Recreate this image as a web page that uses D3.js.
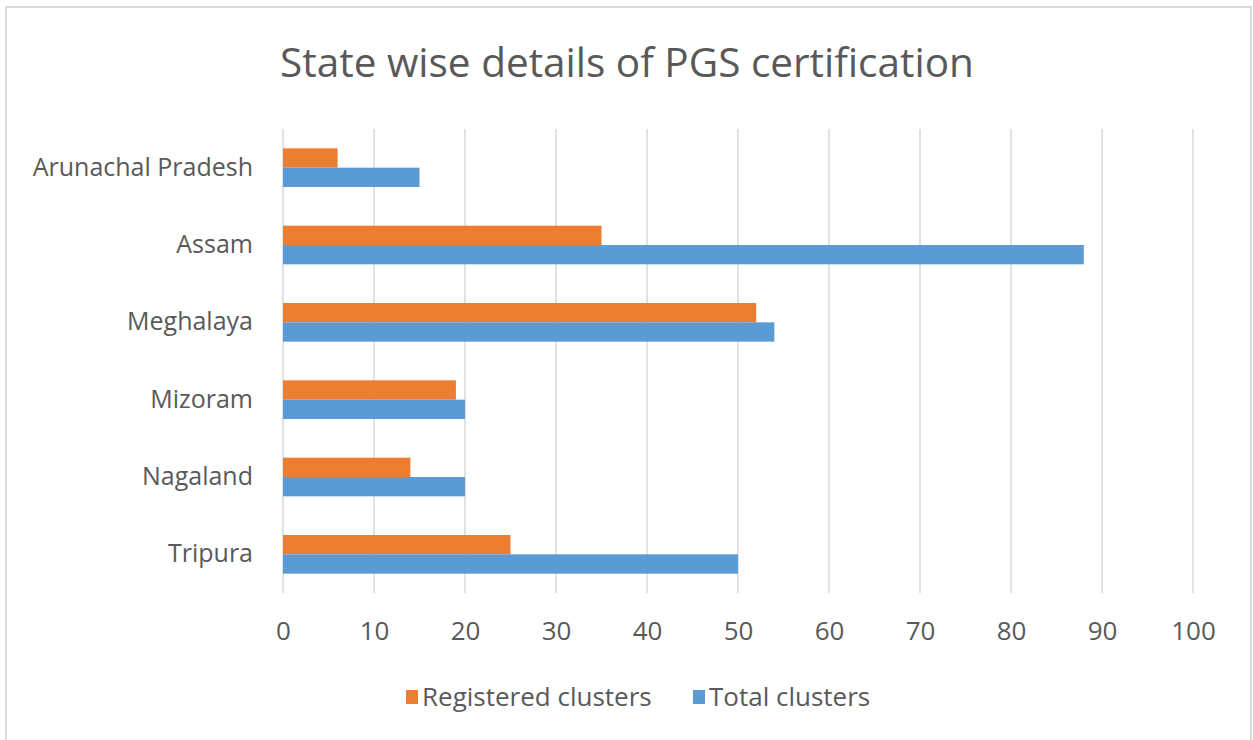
<!DOCTYPE html>
<html>
<head>
<meta charset="utf-8">
<script src="https://d3js.org/d3.v7.min.js"></script>
<style>
  body { margin: 0; background: #fff; }
  text { font-family: "Open Sans", sans-serif; fill: #595959; }
</style>
</head>
<body>
<div id="chart"></div>
<script>
// data
var states = ["Arunachal Pradesh", "Assam", "Meghalaya", "Mizoram", "Nagaland", "Tripura"];
var registered = [6, 35, 52, 19, 14, 25];
var total = [15, 88, 54, 20, 20, 50];
var seriesNames = ["Registered clusters", "Total clusters"];
var xTicks = [0, 10, 20, 30, 40, 50, 60, 70, 80, 90, 100];

var W = 1253, H = 740;
var margin = {top: 129, left: 283, right: 60, bottom: 148};
var width = W - margin.left - margin.right,
    height = H - margin.top - margin.bottom;

var svg = d3.select("#chart").append("svg")
    .attr("width", W).attr("height", H);

// outer frame
svg.append("rect")
    .attr("x", 6).attr("y", 7)
    .attr("width", 1245).attr("height", 745)
    .attr("fill", "#fff")
    .attr("stroke", "#d9d9d9").attr("stroke-width", 2);

svg.append("text")
    .attr("x", 627).attr("y", 77)
    .attr("text-anchor", "middle")
    .style("font-size", "40.5px")
    .text("State wise details of PGS certification");

var g = svg.append("g")
    .attr("transform", "translate(" + margin.left + "," + margin.top + ")");

var x = d3.scaleLinear().domain([0, 100]).range([0, 910]);
var y = d3.scaleBand().domain(states).range([0, 464]).paddingInner(0.5).paddingOuter(0.25);
var sub = d3.scaleBand().domain(seriesNames).range([0, y.bandwidth()]);
var color = d3.scaleOrdinal().domain(seriesNames).range(["#ed7d31", "#5b9bd5"]);

// gridlines
g.append("g")
  .selectAll("line")
  .data(xTicks)
  .enter().append("line")
    .attr("x1", function(d) { return x(d); })
    .attr("x2", function(d) { return x(d); })
    .attr("y1", 0).attr("y2", 464)
    .attr("stroke", "#d9d9d9").attr("stroke-width", 1.5);

var rows = states.map(function(s, i) {
  return {state: s, values: [
    {key: seriesNames[0], value: registered[i]},
    {key: seriesNames[1], value: total[i]}
  ]};
});

g.append("g")
  .selectAll("g")
  .data(rows)
  .enter().append("g")
    .attr("transform", function(d) { return "translate(0," + y(d.state) + ")"; })
  .selectAll("rect")
  .data(function(d) { return d.values; })
  .enter().append("rect")
    .attr("x", x(0))
    .attr("y", function(d) { return sub(d.key); })
    .attr("height", sub.bandwidth())
    .attr("width", function(d) { return x(d.value) - x(0); })
    .attr("fill", function(d) { return color(d.key); });

// category labels
var yAxis = g.append("g")
    .call(d3.axisLeft(y).tickSize(0).tickPadding(30));
yAxis.select(".domain").remove();
yAxis.selectAll("text")
    .style("font-size", "25px")
    .style("fill", "#595959")
    .style("font-family", "'Open Sans', sans-serif");

// value labels
var xAxis = g.append("g")
    .attr("transform", "translate(0,464)")
    .call(d3.axisBottom(x).tickValues(xTicks).tickSize(0).tickPadding(29));
xAxis.select(".domain").remove();
xAxis.selectAll("text")
    .style("font-size", "26px")
    .style("fill", "#595959")
    .style("font-family", "'Open Sans', sans-serif");

// legend
var legendX = [406, 693];
var legend = svg.append("g");
seriesNames.forEach(function(name, i) {
  legend.append("rect")
      .attr("x", legendX[i]).attr("y", 690)
      .attr("width", 12).attr("height", 14)
      .attr("fill", color(name));
  legend.append("text")
      .attr("x", legendX[i] + 16).attr("y", 706)
      .style("font-size", "26px")
      .text(name);
});
</script>
</body>
</html>
